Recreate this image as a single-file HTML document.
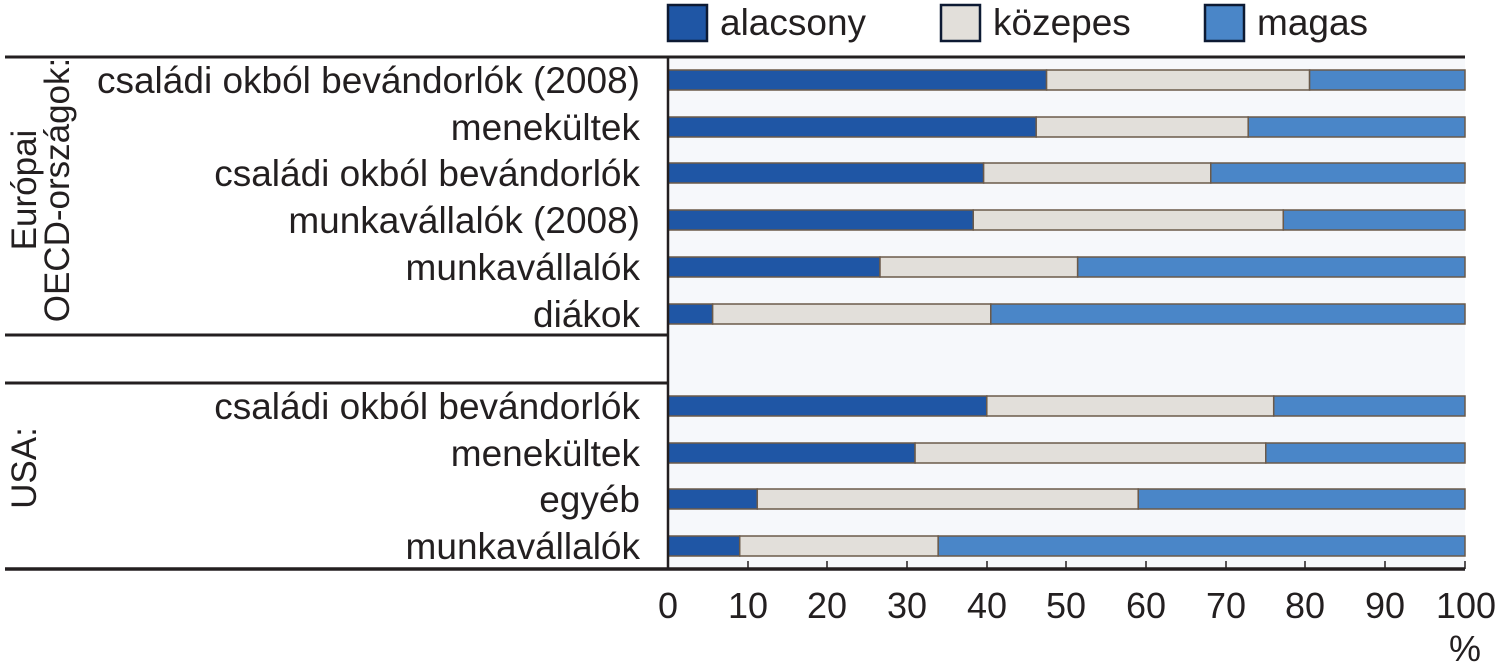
<!DOCTYPE html>
<html><head><meta charset="utf-8"><style>
body{margin:0;background:#fff}
svg text{font-family:"Liberation Sans",sans-serif;fill:#231f20}
</style></head><body>
<svg width="1497" height="665" xmlns="http://www.w3.org/2000/svg">
<rect x="668" y="57" width="797" height="512" fill="#f6f8fb"/>
<g font-size="37">
<rect x="668" y="5" width="39" height="36" fill="#1f56a5" stroke="#0d1a33" stroke-width="2.5"/>
<text x="720" y="35">alacsony</text>
<rect x="941" y="5" width="39" height="36" fill="#e2dfda" stroke="#0d1a33" stroke-width="2.5"/>
<text x="993" y="35">közepes</text>
<rect x="1205" y="5" width="39" height="36" fill="#4a86c8" stroke="#0d1a33" stroke-width="2.5"/>
<text x="1257" y="35">magas</text>
</g>
<g id="bars" stroke="#6b5a4a" stroke-width="1.5"></g>
<line x1="5" y1="57" x2="1465" y2="57" stroke="#231f20" stroke-width="3"/>
<line x1="5" y1="569" x2="1465" y2="569" stroke="#231f20" stroke-width="3.5"/>
<line x1="5" y1="335" x2="668" y2="335" stroke="#231f20" stroke-width="3"/>
<line x1="5" y1="383" x2="668" y2="383" stroke="#231f20" stroke-width="3"/>
<line x1="668" y1="57" x2="668" y2="569" stroke="#231f20" stroke-width="2.5"/>
<g stroke="#231f20" stroke-width="1.5">
<line x1="748" y1="561" x2="748" y2="569"/><line x1="827" y1="561" x2="827" y2="569"/><line x1="907" y1="561" x2="907" y2="569"/><line x1="987" y1="561" x2="987" y2="569"/><line x1="1066" y1="561" x2="1066" y2="569"/><line x1="1146" y1="561" x2="1146" y2="569"/><line x1="1226" y1="561" x2="1226" y2="569"/><line x1="1305" y1="561" x2="1305" y2="569"/><line x1="1385" y1="561" x2="1385" y2="569"/><line x1="1465" y1="561" x2="1465" y2="569"/>
</g>
<g font-size="36" text-anchor="middle">
<text x="668" y="618">0</text><text x="748" y="618">10</text><text x="827" y="618">20</text><text x="907" y="618">30</text><text x="987" y="618">40</text><text x="1066" y="618">50</text><text x="1146" y="618">60</text><text x="1226" y="618">70</text><text x="1305" y="618">80</text><text x="1385" y="618">90</text><text x="1466" y="618">100</text>
<text x="1465" y="661">%</text>
</g>
<g font-size="37" text-anchor="end">
<text x="640" y="93">családi okból bevándorlók (2008)</text>
<text x="640" y="140">menekültek</text>
<text x="640" y="186">családi okból bevándorlók</text>
<text x="640" y="233">munkavállalók (2008)</text>
<text x="640" y="280">munkavállalók</text>
<text x="640" y="327">diákok</text>
<text x="640" y="419">családi okból bevándorlók</text>
<text x="640" y="466">menekültek</text>
<text x="640" y="512">egyéb</text>
<text x="640" y="559">munkavállalók</text>
</g>
<g font-size="35" text-anchor="middle">
<text transform="translate(36,190) rotate(-90)">Európai</text>
<text transform="translate(69,190) rotate(-90)">OECD-országok:</text>
<text transform="translate(36,468) rotate(-90)">USA:</text>
</g>
</svg>
<script>
var d=[[80,47.5,80.5],[127,46.2,72.8],[173,39.6,68.1],[220,38.3,77.2],[267,26.6,51.4],[314,5.6,40.5],[406,40,76],[453,31,75],[499,11.2,59],[546,9,33.9]];
var g=document.getElementById('bars'),ns="http://www.w3.org/2000/svg";
function r(x1,x2,y,c){var e=document.createElementNS(ns,'rect');e.setAttribute('x',x1);e.setAttribute('y',y-10);e.setAttribute('width',x2-x1);e.setAttribute('height',20);e.setAttribute('fill',c);g.appendChild(e);}
d.forEach(function(a){var X=function(v){return 668+v*7.97};r(X(0),X(a[1]),a[0],'#1f56a5');r(X(a[1]),X(a[2]),a[0],'#e2dfda');r(X(a[2]),X(100),a[0],'#4a86c8');});
</script>
</body></html>
